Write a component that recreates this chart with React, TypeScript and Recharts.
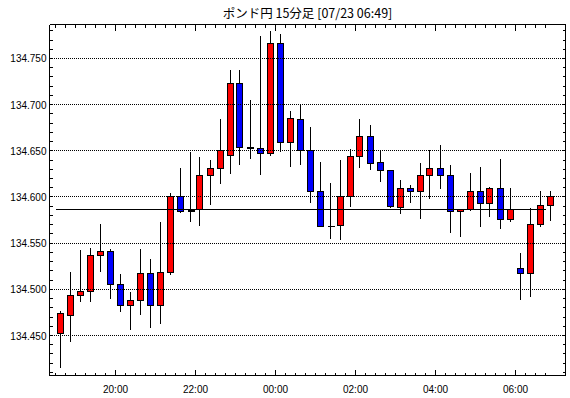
import React from 'react';
import { Bar, ComposedChart, ReferenceLine, XAxis, YAxis } from 'recharts';

const TITLE = 'ポンド円 15分足 [07/23 06:49]';
const FIRST_BAR_MIN = 18 * 60 + 30; // first candle opens 18:30
const BAR_MIN = 15;

const OPEN = [
  134.452, 134.472, 134.493, 134.498, 134.537, 134.541, 134.505, 134.483, 134.488, 134.517,
  134.482, 134.518, 134.600, 134.585, 134.586, 134.623, 134.631, 134.645, 134.723, 134.654,
  134.653, 134.647, 134.766, 134.659, 134.684, 134.650, 134.606, 134.568, 134.569, 134.600,
  134.644, 134.666, 134.637, 134.629, 134.589, 134.609, 134.606, 134.623, 134.631, 134.623,
  134.584, 134.586, 134.606, 134.593, 134.609, 134.576, 134.523, 134.517, 134.570, 134.591,
];
const HIGH = [
  134.477, 134.519, 134.543, 134.545, 134.571, 134.544, 134.517, 134.497, 134.544, 134.533,
  134.573, 134.604, 134.631, 134.649, 134.643, 134.640, 134.685, 134.738, 134.737, 134.705,
  134.774, 134.780, 134.777, 134.693, 134.700, 134.676, 134.638, 134.615, 134.640, 134.652,
  134.685, 134.678, 134.651, 134.629, 134.618, 134.613, 134.637, 134.651, 134.656, 134.635,
  134.587, 134.626, 134.632, 134.611, 134.641, 134.610, 134.539, 134.588, 134.607, 134.607,
];
const LOW = [
  134.415, 134.443, 134.486, 134.486, 134.519, 134.490, 134.476, 134.456, 134.472, 134.458,
  134.462, 134.516, 134.583, 134.573, 134.569, 134.591, 134.614, 134.625, 134.635, 134.641,
  134.624, 134.644, 134.649, 134.633, 134.635, 134.594, 134.568, 134.554, 134.553, 134.589,
  134.631, 134.629, 134.616, 134.588, 134.582, 134.593, 134.576, 134.598, 134.609, 134.561,
  134.557, 134.585, 134.567, 134.578, 134.565, 134.573, 134.489, 134.492, 134.568, 134.574,
];
const CLOSE = [
  134.474, 134.493, 134.498, 134.537, 134.541, 134.505, 134.483, 134.488, 134.517, 134.482,
  134.518, 134.600, 134.584, 134.585, 134.623, 134.631, 134.650, 134.723, 134.654, 134.653,
  134.647, 134.766, 134.659, 134.685, 134.650, 134.606, 134.568, 134.568, 134.600, 134.644,
  134.666, 134.636, 134.629, 134.590, 134.609, 134.606, 134.623, 134.631, 134.623, 134.584,
  134.586, 134.606, 134.593, 134.609, 134.576, 134.586, 134.517, 134.570, 134.591, 134.601,
];

const GRID = [134.45, 134.5, 134.55, 134.6, 134.65, 134.7, 134.75];
const BASE_LINE = 134.586;
const BASE_LINE_FROM = -0.5;
const BASE_LINE_TO = 48.5;

const Y_DOMAIN = [134.4067, 134.7868];
const X_DOMAIN = [-1.1, 50.5];

const FONT = '"Liberation Sans", Arial, sans-serif';

const data = OPEN.map((o, i) => ({
  i,
  range: [LOW[i], HIGH[i]],
  o,
  h: HIGH[i],
  l: LOW[i],
  c: CLOSE[i],
}));

// one tick per candle boundary, one per 0.01 on the price axis
const xTicks = OPEN.map((_, i) => i - 0.5);
const yTicks: number[] = [];
for (let k = 41; k <= 78; k++) yTicks.push(134 + k / 100);

function boundaryMinutes(v: number) {
  return FIRST_BAR_MIN + (v + 0.5) * BAR_MIN;
}
function isHourMark(v: number) {
  return Math.round(boundaryMinutes(v)) % 120 === 0;
}
function hourLabel(v: number) {
  const h = Math.floor(Math.round(boundaryMinutes(v)) / 60) % 24;
  return `${String(h).padStart(2, '0')}:00`;
}
function isPriceMark(v: number) {
  return Math.round(v * 1000) % 50 === 0;
}

function BottomTick({ x, y, payload }: any) {
  const major = isHourMark(payload.value);
  return (
    <g>
      <line x1={x} x2={x} y1={y} y2={y - (major ? 6 : 3)} stroke="#000" shapeRendering="crispEdges" />
      {major && (
        <text x={x} y={y + 17} textAnchor="middle" fontSize={10} fontFamily={FONT} fill="#000">
          {hourLabel(payload.value)}
        </text>
      )}
    </g>
  );
}

function TopTick({ x, y, payload }: any) {
  const major = isHourMark(payload.value);
  return <line x1={x} x2={x} y1={y} y2={y + (major ? 6 : 3)} stroke="#000" shapeRendering="crispEdges" />;
}

function LeftTick({ x, y, payload }: any) {
  const major = isPriceMark(payload.value);
  return (
    <g>
      <line x1={x} x2={x + 3} y1={y} y2={y} stroke="#000" shapeRendering="crispEdges" />
      {major && (
        <text x={x - 3} y={y + 4} textAnchor="end" fontSize={10} fontFamily={FONT} fill="#000">
          {payload.value.toFixed(3)}
        </text>
      )}
    </g>
  );
}

function RightTick({ x, y }: any) {
  return <line x1={x} x2={x - 3} y1={y} y2={y} stroke="#000" shapeRendering="crispEdges" />;
}

function Candle(props: any) {
  const { x, y, width, height, payload } = props;
  if (!payload || height == null) return null;
  const { o, h, l, c } = payload;
  const cx = Math.round(x + width / 2 - 0.5) + 0.5;
  const px = (v: number) => y + ((h - v) / (h - l)) * height;
  const top = px(Math.max(o, c));
  const bottom = px(Math.min(o, c));
  const fill = c > o ? '#ff0000' : c < o ? '#0000ff' : '#000';
  return (
    <g>
      <line x1={cx} x2={cx} y1={y} y2={y + height} stroke="#000" shapeRendering="crispEdges" />
      {bottom - top < 0.5 ? (
        <line x1={cx - 3} x2={cx + 4} y1={top} y2={top} stroke="#000" strokeWidth={1.5} shapeRendering="crispEdges" />
      ) : (
        <rect x={cx - 3} y={top} width={6} height={bottom - top} fill={fill} stroke="#000" shapeRendering="crispEdges" />
      )}
    </g>
  );
}

export default function App() {
  return (
    <div style={{ position: 'absolute', left: 0, top: 0, width: 570, height: 398, background: '#fff' }}>
      <div
        style={{
          position: 'absolute',
          left: 49.5,
          top: 6,
          width: 516,
          textAlign: 'center',
          fontFamily: '"Noto Sans CJK JP", sans-serif',
          fontSize: 12.5,
          lineHeight: '13px',
          color: '#000',
        }}
      >
        {TITLE}
      </div>
      <ComposedChart
        width={570}
        height={398}
        data={data}
        margin={{ top: 23.5, right: 3.5, bottom: 21.5, left: 48.5 }}
      >
        <XAxis
          xAxisId="b"
          dataKey="i"
          type="number"
          domain={X_DOMAIN}
          allowDataOverflow
          ticks={xTicks}
          interval={0}
          height={1}
          tickSize={0}
          tickMargin={0}
          tickLine={false}
          axisLine={{ stroke: '#000', shapeRendering: 'crispEdges' }}
          tick={<BottomTick />}
        />
        <XAxis
          xAxisId="t"
          orientation="top"
          dataKey="i"
          type="number"
          domain={X_DOMAIN}
          allowDataOverflow
          ticks={xTicks}
          interval={0}
          height={1}
          tickSize={0}
          tickMargin={0}
          tickLine={false}
          axisLine={{ stroke: '#000', shapeRendering: 'crispEdges' }}
          tick={<TopTick />}
        />
        <YAxis
          yAxisId="p"
          type="number"
          domain={Y_DOMAIN}
          allowDataOverflow
          ticks={yTicks}
          interval={0}
          width={1}
          tickSize={0}
          tickMargin={0}
          tickLine={false}
          axisLine={{ stroke: '#000', shapeRendering: 'crispEdges' }}
          tick={<LeftTick />}
        />
        <YAxis
          yAxisId="r"
          orientation="right"
          type="number"
          domain={Y_DOMAIN}
          allowDataOverflow
          ticks={yTicks}
          interval={0}
          width={1}
          tickSize={0}
          tickMargin={0}
          tickLine={false}
          axisLine={{ stroke: '#000', shapeRendering: 'crispEdges' }}
          tick={<RightTick />}
        />
        {GRID.map((g) => (
          <ReferenceLine
            key={g}
            xAxisId="b"
            yAxisId="p"
            y={g}
            stroke="#000"
            strokeDasharray="1 1"
            shapeRendering="crispEdges"
          />
        ))}
        <ReferenceLine
          xAxisId="b"
          yAxisId="p"
          segment={[
            { x: BASE_LINE_FROM, y: BASE_LINE },
            { x: BASE_LINE_TO, y: BASE_LINE },
          ]}
          stroke="#000"
          shapeRendering="crispEdges"
        />
        <Bar
          xAxisId="b"
          yAxisId="p"
          dataKey="range"
          barSize={10}
          shape={<Candle />}
          isAnimationActive={false}
        />
      </ComposedChart>
    </div>
  );
}
